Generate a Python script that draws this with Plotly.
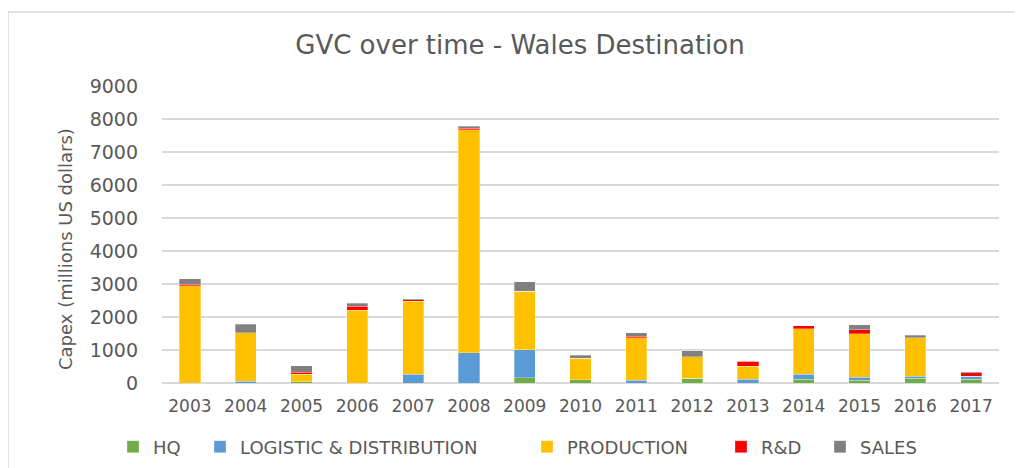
import plotly.graph_objects as go

years = ["2003", "2004", "2005", "2006", "2007", "2008", "2009", "2010",
         "2011", "2012", "2013", "2014", "2015", "2016", "2017"]
hq = [0, 0, 40, 0, 0, 0, 160, 100, 0, 140, 0, 120, 80, 150, 120]
logistic = [0, 50, 0, 0, 270, 910, 850, 0, 90, 0, 120, 150, 100, 60, 90]
production = [2940, 1480, 230, 2200, 2200, 6760, 1775, 655, 1280, 650, 390, 1370, 1310, 1160, 0]
rnd = [60, 0, 60, 130, 60, 50, 0, 0, 50, 0, 150, 100, 130, 0, 100]
sales = [160, 250, 190, 90, 20, 60, 290, 80, 110, 180, 0, 0, 150, 70, 30]

series_names = ["HQ", "LOGISTIC & DISTRIBUTION", "PRODUCTION", "R&D", "SALES"]
series_values = [hq, logistic, production, rnd, sales]
series_colors = ["#70AD47", "#5B9BD5", "#FFC000", "#FF0000", "#808080"]

FONT = "DejaVu Sans"
GREY = "#595959"

# page is rendered with an 8px body margin -> figure coords = screenshot coords - 8
OFF = 8
W, H = 1022 - OFF, 468 - OFF
L, R, T, B = 162 - OFF, 999 - OFF, 86 - OFF, 383 - OFF
# left pixel (screenshot) where each legend label's text starts
legend_text_x = [153, 240, 567, 761, 860]

def px(x):
    return (x - OFF - L) / (R - L)
def py(y):
    return (B - (y - OFF)) / (B - T)

fig = go.Figure()
legends = {}
for i, (name, vals, col) in enumerate(zip(series_names, series_values, series_colors)):
    lg = "legend" if i == 0 else f"legend{i + 1}"
    fig.add_trace(go.Bar(x=years, y=vals, name=name, legend=lg,
                         marker=dict(color=col, line=dict(color="rgba(255,255,255,0.6)", width=0.5))))
    legends[lg] = dict(orientation="h", x=px(legend_text_x[i] - 40), xanchor="left",
                       y=py(447), yanchor="middle", xref="paper", yref="paper",
                       font=dict(family=FONT, size=18, color=GREY),
                       itemwidth=30, bgcolor="rgba(0,0,0,0)", borderwidth=0)

fig.update_layout(
    width=W, height=H,
    margin=dict(l=L, r=W - R, t=T, b=H - B, pad=0, autoexpand=False),
    barmode="stack",
    bargap=0.62,
    paper_bgcolor="white",
    plot_bgcolor="white",
    font=dict(family=FONT, color=GREY, size=17),
    title=dict(text="GVC over time - Wales Destination",
               x=px(520), xref="paper", xanchor="center",
               y=1 - (45 - OFF) / H, yref="container", yanchor="middle",
               font=dict(family=FONT, size=26, color=GREY)),
    showlegend=True,
    xaxis=dict(showgrid=False, showline=False, ticks="",
               tickfont=dict(family=FONT, size=17, color=GREY),
               ticklabelstandoff=11),
    yaxis=dict(range=[0, 9000], tickvals=list(range(0, 9001, 1000)),
               showgrid=True, gridcolor="#d9d9d9", gridwidth=1.5,
               zeroline=True, zerolinecolor="#d9d9d9", zerolinewidth=1.5,
               showline=False, ticks="",
               tickfont=dict(family=FONT, size=19, color=GREY),
               ticklabelstandoff=23),
    annotations=[dict(text="Capex (millions US dollars)", textangle=-90,
                      xref="paper", yref="paper", x=px(65), y=py(249),
                      xanchor="center", yanchor="middle", showarrow=False,
                      font=dict(family=FONT, size=18, color=GREY))],
    shapes=[dict(type="rect", xref="paper", yref="paper",
                 x0=px(8), x1=px(1040), y0=py(480), y1=py(12),
                 line=dict(color="#d9d9d9", width=1.5), fillcolor="rgba(0,0,0,0)",
                 layer="below")],
    **legends,
)

fig.write_html("out.html")
